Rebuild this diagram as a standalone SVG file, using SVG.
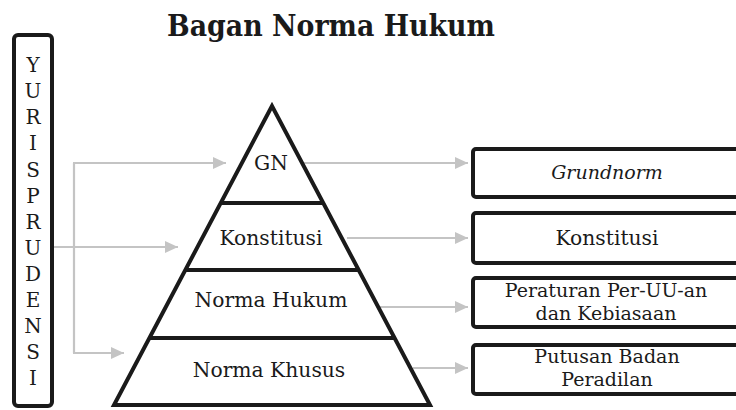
<svg xmlns="http://www.w3.org/2000/svg" width="736" height="410" viewBox="0 0 736 410">
<defs>
<marker id="ah" markerUnits="userSpaceOnUse" markerWidth="14" markerHeight="12" refX="13" refY="6" orient="auto">
<path d="M0,0 L13,6 L0,12 Z" fill="#c4c4c4"/>
</marker>
<style>
.t{font-family:"DejaVu Serif","Liberation Serif",serif;fill:#1a1a1a;text-anchor:middle}
.n{font-size:20.3px}
.m{font-size:19px}
.box{fill:#fff;stroke:#1a1a1a;stroke-width:4}
.ln{stroke:#1a1a1a;stroke-width:4;stroke-linecap:butt}
.c{fill:none;stroke:#c4c4c4;stroke-width:2.2}
.ca{fill:none;stroke:#c4c4c4;stroke-width:2.2;marker-end:url(#ah)}
</style>
</defs>
<rect width="736" height="410" fill="#fff"/>
<text class="t" x="331" y="36" font-size="29" font-weight="bold" textLength="328" lengthAdjust="spacingAndGlyphs">Bagan Norma Hukum</text>

<g id="connectors">
<path class="c" d="M74,163 V353"/>
<path class="ca" d="M73,163 H226"/>
<path class="ca" d="M54,247 H178"/>
<path class="ca" d="M73,353 H124"/>
<path class="ca" d="M302,163 H468"/>
<path class="ca" d="M347,238 H468"/>
<path class="ca" d="M380,307 H468"/>
<path class="ca" d="M413,368 H468"/>
</g>

<g id="yurisprudensi">
<rect class="box" x="14" y="35" width="38" height="371" rx="4"/>
<g class="t" font-size="20">
<text x="33" y="72">Y</text>
<text x="33" y="98">U</text>
<text x="33" y="124">R</text>
<text x="33" y="150">I</text>
<text x="33" y="177">S</text>
<text x="33" y="203">P</text>
<text x="33" y="229">R</text>
<text x="33" y="255">U</text>
<text x="33" y="281">D</text>
<text x="33" y="307">E</text>
<text x="33" y="333">N</text>
<text x="33" y="359">S</text>
<text x="33" y="385">I</text>
</g>
</g>

<g id="pyramid">
<polygon points="272,106 114,405 430,405" fill="#fff" stroke="#1a1a1a" stroke-width="4" stroke-linejoin="miter"/>
<line class="ln" x1="220.7" y1="203" x2="323.3" y2="203"/>
<line class="ln" x1="185.3" y1="270" x2="358.7" y2="270"/>
<line class="ln" x1="149.4" y1="338" x2="394.6" y2="338"/>
</g>
<g id="gn"><text class="t n" x="271" y="170">GN</text></g>
<g id="konstitusi-p"><text class="t n" x="271" y="245">Konstitusi</text></g>
<g id="norma-hukum"><text class="t n" x="271" y="307">Norma Hukum</text></g>
<g id="norma-khusus"><text class="t n" x="269" y="377">Norma Khusus</text></g>

<g id="grundnorm">
<rect class="box" x="473" y="149" width="275" height="48" rx="3"/>
<text class="t" font-size="19" x="607" y="179" font-style="italic">Grundnorm</text>
</g>
<g id="konstitusi-r">
<rect class="box" x="473" y="213" width="275" height="50" rx="3"/>
<text class="t n" x="607" y="245">Konstitusi</text>
</g>
<g id="peraturan">
<rect class="box" x="473" y="278" width="275" height="49" rx="3"/>
<text class="t m" x="606" y="297">Peraturan Per-UU-an</text>
<text class="t m" x="606" y="320">dan Kebiasaan</text>
</g>
<g id="putusan">
<rect class="box" x="473" y="345" width="275" height="49" rx="3"/>
<text class="t m" x="607" y="363">Putusan Badan</text>
<text class="t m" x="607" y="386">Peradilan</text>
</g>
</svg>
